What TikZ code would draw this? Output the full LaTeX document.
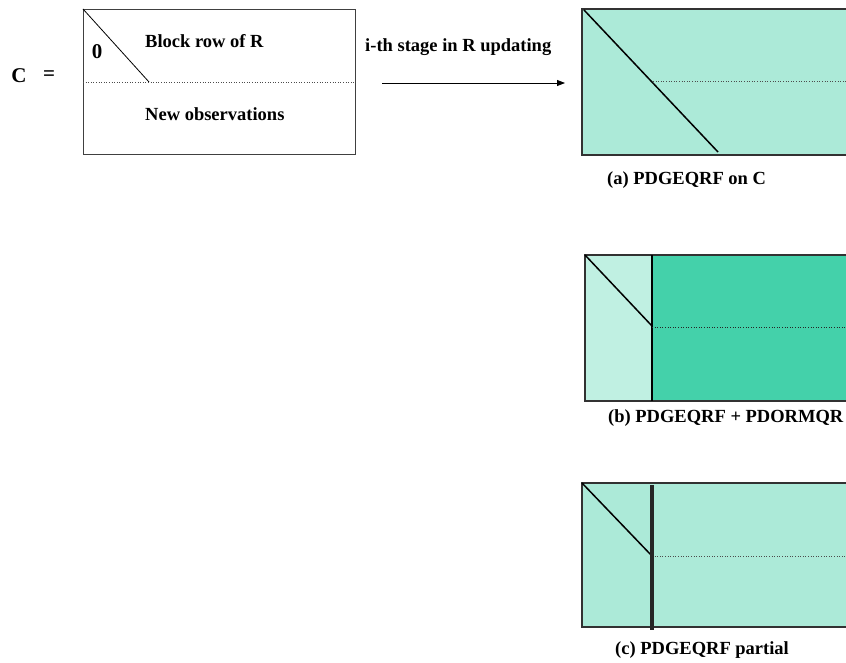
\documentclass[tikz,border=0pt]{standalone}
\usepackage{fontspec}
\setmainfont{Liberation Serif}
\usetikzlibrary{arrows.meta}
\definecolor{lightfill}{RGB}{172,234,216}
\definecolor{paler}{RGB}{192,240,226}
\definecolor{darkfill}{RGB}{68,209,170}
\definecolor{framegray}{RGB}{50,50,50}
\tikzset{
  lbl/.style={font=\fontsize{18.5}{21}\selectfont\bfseries, inner sep=0pt},
  biglbl/.style={font=\fontsize{21}{24}\selectfont\bfseries, inner sep=0pt},
  frame/.style={draw=framegray, line width=0.9pt},
  sep/.style={draw=black!70, dotted, line width=0.6pt},
  diag/.style={draw=black, line width=1.5pt},
}
\begin{document}
\begin{tikzpicture}[x=1pt,y=-1pt]
\useasboundingbox[fill=white] (0,0) rectangle (846,663);

% left matrix C
\node[biglbl] (C) at (19,76) {C};
\node[biglbl] (eq) at (49,76) {=};
\draw[frame, draw=black!75] (83,9) rectangle (355,154);
\coordinate (ltl) at (83,9);
\coordinate (ldg) at (149,82);
\draw[black, line width=0.8pt] (ltl) -- (ldg);
\draw[sep] (83,82) -- (355,82);
\node[biglbl] (zero) at (97,52) {0};
\node[lbl, anchor=west] (brow) at (145,41) {Block row of R};
\node[lbl, anchor=west] (newobs) at (145,114) {New observations};

% arrow
\node[lbl, anchor=west] (stage) at (365,47) {i-th stage in R updating};
\coordinate (arS) at (382,83);
\coordinate (arE) at (565,83);
\draw[-{Triangle[length=8pt,width=6pt]}, line width=0.8pt] (arS) -- (arE);

% (a)
\fill[lightfill] (582,9) rectangle (850,155);
\draw[frame, line width=1.2pt] (850,9) -- (582,9) -- (582,155) -- (850,155);
\draw[sep] (653,81) -- (850,81);
\coordinate (atl) at (584,10);
\coordinate (adg) at (718,152);
\draw[diag] (atl) -- (adg);
\node[lbl, anchor=west] (capa) at (607,180) {(a) PDGEQRF on C};

% (b)
\fill[paler] (585,255) rectangle (652,401);
\fill[darkfill] (652,255) rectangle (850,401);
\draw[frame, line width=1.2pt] (850,255) -- (585,255) -- (585,401) -- (850,401);
\draw[black, line width=1.3pt] (652,255) -- (652,401);
\draw[sep, draw=black!85] (652,327) -- (850,327);
\coordinate (btl) at (585,255);
\coordinate (bdg) at (652,326);
\draw[diag] (btl) -- (bdg);
\node[lbl, anchor=west] (capb) at (608,418) {(b) PDGEQRF + PDORMQR};

% (c)
\fill[lightfill] (582,483) rectangle (850,627);
\draw[frame, line width=1.2pt] (850,483) -- (582,483) -- (582,627) -- (850,627);
\draw[sep] (652,556) -- (850,556);
\coordinate (ctl) at (582,483);
\coordinate (cdg) at (652,556);
\draw[diag] (ctl) -- (cdg);
\draw[black!85, line width=4pt] (652,485) -- (652,630);
\node[lbl, anchor=west] (capc) at (615,650) {(c) PDGEQRF partial};
\end{tikzpicture}
\end{document}
